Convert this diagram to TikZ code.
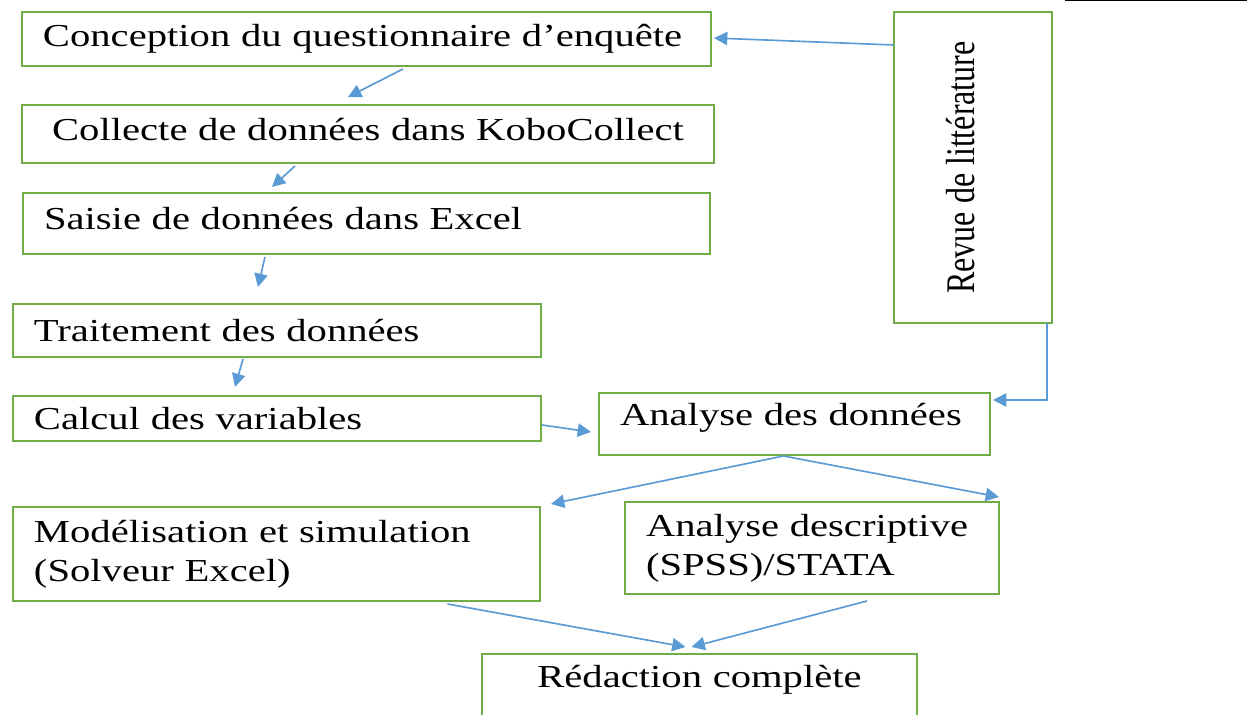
\documentclass[tikz,border=0pt]{standalone}
\usepackage{fontspec}
\setmainfont{Liberation Serif}[FakeStretch=1.27]
\newfontfamily\revuefont{Liberation Serif}
\usepackage{tikz}
\usetikzlibrary{positioning,arrows.meta,calc}
\definecolor{green}{HTML}{70AD47}
\definecolor{blue}{HTML}{5B9BD5}
\def\pxu{0.3pt}
\tikzset{
  box/.style={draw=green,line width=0.6pt,fill=white,align=left,inner xsep=21*\pxu,inner ysep=0pt,font=\fontsize{9.6}{11.7}\selectfont},
  size/.style 2 args={minimum width=#1*\pxu,minimum height=#2*\pxu,text width=(#1-42)*\pxu},
  arrow/.style={-{Triangle[length=4pt,width=4pt]},draw=blue,line width=0.5pt}
}

\begin{document}
\begin{tikzpicture}[x=0.3pt,y=-0.3pt]
  \useasboundingbox (0,0) rectangle (1247,715);
  \draw[line width=0.6pt] (1065,0) -- (1247,0);
  % steps on the left
  \node[box,size={689}{54}] (conception) at (366.5,39) {Conception du questionnaire d’enquête};
  \node[box,size={692}{58},align=center,text depth=3pt] (collecte) at (368,134) {Collecte de données dans KoboCollect};
  \node[box,size={687}{61},text depth=3.3pt] (saisie) at (366.5,223.5) {Saisie de données dans Excel};
  \node[box,size={528}{53}] (traitement) at (277,330.5) {Traitement des données};
  \node[box,size={528}{45}] (calcul) at (277,418.5) {Calcul des variables};
  \node[box,size={391}{62},text depth=5.7pt] (analyse) at (794.5,424) {Analyse des données};
  \node[box,rotate=90,minimum width=311*\pxu,minimum height=158*\pxu,align=center,text depth=7.8pt] (revue) at (973,167.5) {\revuefont\scalebox{1}[1.27]{Revue de littérature}};
  \node[box,size={527}{94}] (modele) at (276.5,554) {Modélisation et simulation\\(Solveur Excel)};
  \node[box,size={374}{92}] (descriptive) at (812,548) {Analyse descriptive\\(SPSS)/STATA};
  \node[box,size={435}{70},align=center,text depth=7.5pt] (redaction) at (699.5,689) {Rédaction complète};
  % connectors
  \draw[arrow] ($(revue.center)+(-79,-122.5)$) -- ($(conception.east)+(2,-1)$);
  \draw[arrow] ($(conception.south)+(36.5,2)$) -- ($(collecte.north)+(-20,-7)$);
  \draw[arrow] ($(collecte.south)+(-73,2)$) -- ($(saisie.north)+(-94.5,-5)$);
  \draw[arrow] ($(saisie.south)+(-101.5,2)$) -- ($(traitement.north)+(-19,-16)$);
  \draw[arrow] ($(traitement.south)+(-34,1)$) -- ($(calcul.north)+(-42,-8)$);
  \draw[arrow] ($(calcul.east)+(0,6.5)$) -- ($(analyse.west)+(-7,8)$);
  \draw[arrow] ($(revue.center)+(74,155.5)$) |- ($(analyse.north east)+(2,8)$);
  \draw[arrow] ($(analyse.south)+(-11,0)$) -- ($(modele.north east)+(10,-2)$);
  \draw[arrow] ($(analyse.south)+(-11,0)$) -- ($(descriptive.north east)+(-1,-4)$);
  \draw[arrow] ($(modele.south)+(171,2)$) -- ($(redaction.north)+(-14,-6)$);
  \draw[arrow] ($(descriptive.south)+(55,6)$) -- ($(redaction.north)+(-8,-6)$);
\end{tikzpicture}
\end{document}
